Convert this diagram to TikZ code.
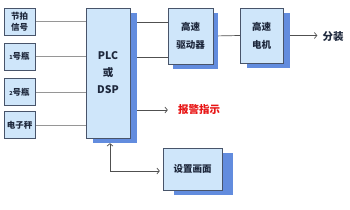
\documentclass[tikz,border=0pt]{standalone}
\usepackage{fontspec}
\setmainfont{Noto Sans CJK SC}
\usetikzlibrary{arrows.meta,positioning,shadows,backgrounds}
\definecolor{bxfill}{RGB}{207,230,250}
\definecolor{bxline}{RGB}{72,84,106}
\definecolor{bxshade}{RGB}{98,140,222}
\definecolor{bxtext}{RGB}{30,40,60}
\definecolor{lnleft}{RGB}{150,150,150}
\definecolor{lnright}{RGB}{80,80,80}
\definecolor{alarmred}{RGB}{232,20,20}
\tikzset{
  inbox/.style={draw=bxline, fill=bxfill, text=bxtext, font=\fontsize{8.5}{11}\selectfont\bfseries,
                minimum width=31pt, minimum height=27pt, inner sep=0pt, align=center},
  unitbox/.style={draw=bxline, fill=bxfill, text=bxtext, font=\fontsize{9.5}{18}\selectfont\bfseries,
                  inner sep=0pt, align=center,
                  drop shadow={shadow xshift=#1, shadow yshift=-5pt, fill=bxshade, opacity=1}},
  inline/.style={draw=lnleft, line width=0.8pt},
  outline/.style={draw=lnright, line width=0.7pt},
  sigarrow/.style={outline, -{Straight Barb[length=2.5pt,width=6pt]}},
}
\begin{document}
\begin{tikzpicture}[x=1pt, y=-1pt]
\useasboundingbox (0,0) rectangle (350,209);

% input signals
\node[inbox] (beat) at (19.5,21.5) {节拍\\信号};
\node[inbox] (bottle1) at (19.5,56.5) {{\fontsize{5.5}{6}\selectfont 1}号瓶};
\node[inbox] (bottle2) at (19.5,92) {{\fontsize{5.5}{6}\selectfont 2}号瓶};
\node[inbox] (scale) at (19.5,125) {电子秤};

% controller
\node[unitbox=7pt, minimum width=44pt, minimum height=130pt,
      font=\fontsize{10.5}{17}\selectfont\bfseries] (plc) at (108,73) {PLC\\或\\DSP};

% drive chain
\node[unitbox=5pt, minimum width=45pt, minimum height=56pt] (drv) at (190.5,36) {高速\\驱动器};
\node[unitbox=7pt, minimum width=43pt, minimum height=55pt] (mot) at (261.5,35.5) {高速\\电机};
\node[font=\fontsize{10.5}{11}\selectfont\bfseries, text=bxtext, inner sep=0pt] (out) at (333,37) {分装};

% alarm and setup screen
\node[font=\fontsize{10.5}{11}\selectfont\bfseries, text=alarmred, inner sep=0pt] (alm) at (199,110) {报警指示};
\node[unitbox=11pt, minimum width=59pt, minimum height=42pt] (set) at (192.5,169) {设置画面};

\begin{scope}[on background layer]
\draw[inline] (beat.east) -- (beat.east -| plc.west);
\draw[inline] (bottle1.east) -- (bottle1.east -| plc.west);
\draw[inline] (bottle2.east) -- (bottle2.east -| plc.west);
\draw[inline] (scale.east) -- (scale.east -| plc.west);
\draw[outline] ([yshift=14pt]drv.west) -- ([yshift=14pt]drv.west -| plc.east);
\draw[outline] ([yshift=-21pt]drv.west) -- ([yshift=-21pt]drv.west -| plc.east);
\draw[outline] (drv.east) -- (mot.west);
\end{scope}
\draw[sigarrow, shorten >=5pt] ([xshift=7pt]mot.east) -- (mot.east -| out.west);
\draw[sigarrow, shorten >=10pt] ([xshift=7pt]alm.west -| plc.east) -- (alm.west);
\draw[outline, {Straight Barb[length=2.5pt,width=6pt]}-{Straight Barb[length=2.5pt,width=6pt]},
      shorten >=3pt] ([shift={(2pt,-5pt)}]plc.south) |- ([yshift=-2pt]set.west);

\end{tikzpicture}
\end{document}
